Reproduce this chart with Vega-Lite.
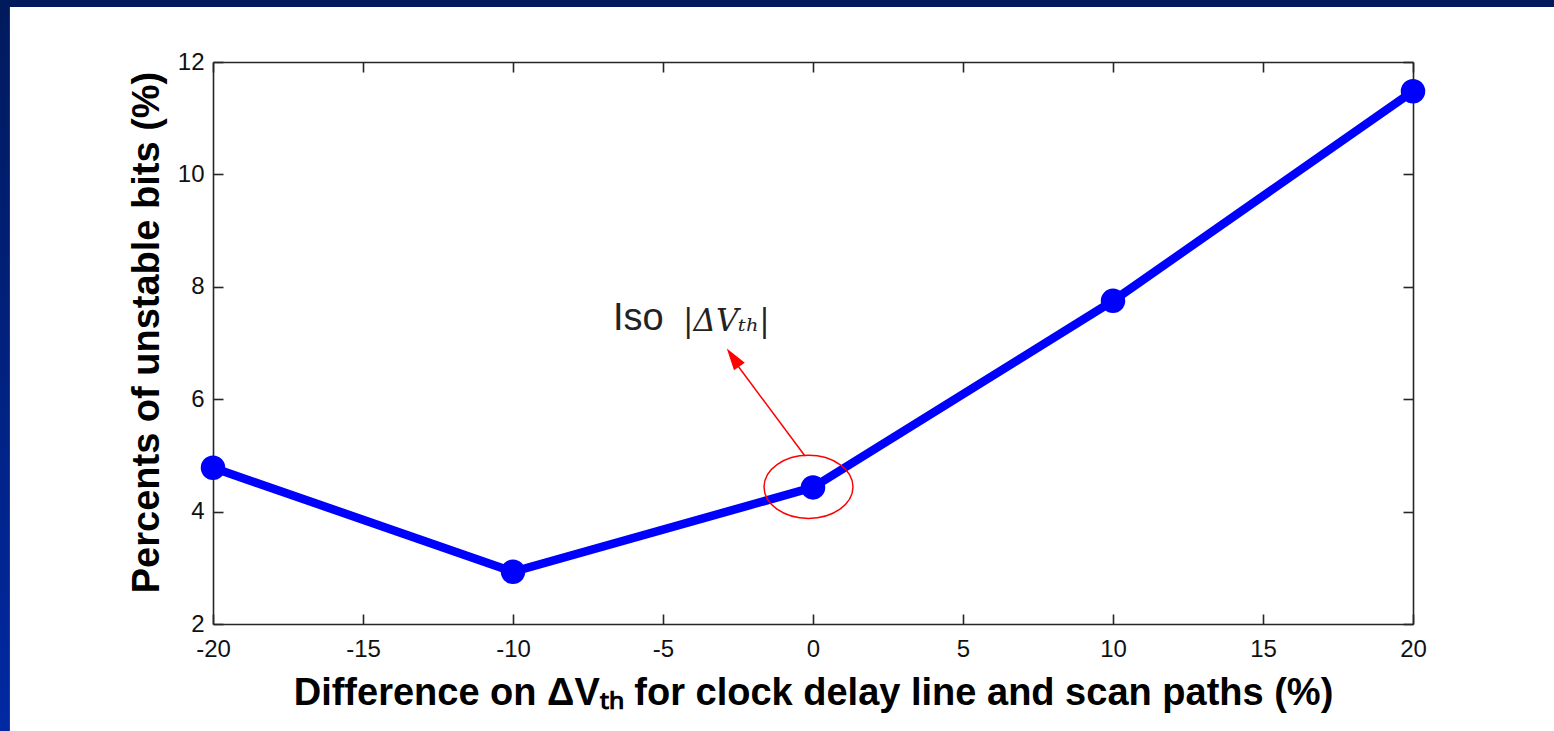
{
  "$schema": "https://vega.github.io/schema/vega-lite/v6.json",
  "width": 1200,
  "height": 562,
  "autosize": {"type": "none"},
  "padding": {"left": 213, "top": 62, "right": 141, "bottom": 107},
  "background": "#ffffff",
  "config": {
    "view": {"stroke": null},
    "font": "Liberation Sans",
    "axis": {
      "grid": false,
      "domainColor": "#262626",
      "domainWidth": 1.6,
      "tickColor": "#262626",
      "tickWidth": 1.6,
      "tickSize": -10,
      "labelColor": "#111111",
      "labelFont": "Liberation Sans",
      "labelFontSize": 24,
      "labelFlush": false,
      "labelOverlap": false,
      "titleColor": "#000000",
      "titleFont": "Liberation Sans",
      "titleFontSize": 38,
      "titleFontWeight": "bold"
    }
  },
  "datasets": {
    "main": [
      {"diff": -20, "pct": 4.78},
      {"diff": -10, "pct": 2.93},
      {"diff": 0, "pct": 4.43},
      {"diff": 10, "pct": 7.75},
      {"diff": 20, "pct": 11.48}
    ]
  },
  "layer": [
    {
      "data": {"name": "main"},
      "mark": {"type": "line", "color": "#0000ff", "strokeWidth": 8.5},
      "encoding": {
        "x": {
          "field": "diff", "type": "quantitative",
          "scale": {"domain": [-20, 20], "nice": false, "zero": false},
          "axis": {
            "orient": "bottom",
            "values": [-20, -15, -10, -5, 0, 5, 10, 15, 20],
            "labelExpr": "datum.value < 0 ? '-' + abs(datum.value) : '' + datum.value",
            "labelPadding": 23,
            "title": "Difference on ΔVₜₕ for clock delay line and scan paths (%)",
            "titlePadding": 13
          }
        },
        "y": {
          "field": "pct", "type": "quantitative",
          "scale": {"domain": [2, 12], "nice": false, "zero": false},
          "axis": {
            "orient": "left",
            "values": [2, 4, 6, 8, 10, 12],
            "labelPadding": 19,
            "title": "Percents of unstable bits (%)",
            "titlePadding": 11,
            "titleY": 270
          }
        }
      }
    },
    {
      "data": {"name": "main"},
      "mark": {"type": "point", "opacity": 0},
      "encoding": {
        "x": {
          "field": "diff", "type": "quantitative",
          "axis": {"orient": "top", "values": [-20, -15, -10, -5, 0, 5, 10, 15, 20], "labels": false, "title": null}
        },
        "y": {
          "field": "pct", "type": "quantitative",
          "axis": {"orient": "right", "values": [2, 4, 6, 8, 10, 12], "labels": false, "title": null}
        }
      }
    },
    {
      "data": {"values": [{}]},
      "mark": {"type": "rect", "fill": {"gradient": "linear", "x1": 0, "y1": 0, "x2": 0, "y2": 1, "stops": [{"offset": 0.056, "color": "#001a5c"}, {"offset": 0.87, "color": "#0029a3"}]}},
      "encoding": {
        "x": {"datum": -28, "type": "quantitative", "axis": null},
        "x2": {"datum": -26.77},
        "y": {"datum": -2, "type": "quantitative", "axis": null},
        "y2": {"datum": 14}
      }
    },
    {
      "data": {"values": [{}]},
      "mark": {"type": "rect", "fill": "#001a5c"},
      "encoding": {
        "x": {"datum": -28, "type": "quantitative", "axis": null},
        "x2": {"datum": 27},
        "y": {"datum": 12.98, "type": "quantitative", "axis": null},
        "y2": {"datum": 14}
      }
    },
    {
      "data": {"name": "main"},
      "mark": {"type": "point", "shape": "circle", "filled": true, "color": "#0000ff", "opacity": 1, "size": 600},
      "encoding": {
        "x": {"field": "diff", "type": "quantitative", "axis": null},
        "y": {"field": "pct", "type": "quantitative", "axis": null}
      }
    },
    {
      "data": {"values": [{}]},
      "mark": {"type": "point", "shape": "M-1,0A1,0.71,0,1,0,1,0A1,0.71,0,1,0,-1,0Z", "filled": false, "color": "#ff0000", "strokeWidth": 1.5, "opacity": 1, "size": 7921},
      "encoding": {
        "x": {"datum": -0.15, "type": "quantitative", "axis": null},
        "y": {"datum": 4.44, "type": "quantitative", "axis": null}
      }
    },
    {
      "data": {"values": [{}]},
      "mark": {"type": "rule", "color": "#ff0000", "strokeWidth": 1.5},
      "encoding": {
        "x": {"datum": -0.267, "type": "quantitative", "axis": null},
        "y": {"datum": 4.99, "type": "quantitative", "axis": null},
        "x2": {"datum": -2.5},
        "y2": {"datum": 6.59}
      }
    },
    {
      "data": {"values": [{}]},
      "mark": {"type": "point", "shape": "M0,-1L-0.6,1L0.6,1Z", "filled": true, "color": "#ff0000", "opacity": 1, "size": 484, "angle": 325},
      "encoding": {
        "x": {"datum": -2.663, "type": "quantitative", "axis": null},
        "y": {"datum": 6.742, "type": "quantitative", "axis": null}
      }
    },
    {
      "data": {"values": [{}]},
      "mark": {"type": "text", "text": "Iso", "font": "Liberation Sans", "fontSize": 38, "align": "left", "baseline": "middle", "color": "#222222"},
      "encoding": {
        "x": {"datum": -6.67, "type": "quantitative", "axis": null},
        "y": {"datum": 7.43, "type": "quantitative", "axis": null}
      }
    },
    {
      "data": {"values": [{}]},
      "mark": {"type": "text", "text": "|ΔVₜₕ|", "font": "DejaVu Serif", "fontStyle": "italic", "fontSize": 31, "align": "left", "baseline": "middle", "color": "#222222"},
      "encoding": {
        "x": {"datum": -4.33, "type": "quantitative", "axis": null},
        "y": {"datum": 7.38, "type": "quantitative", "axis": null}
      }
    }
  ]
}
